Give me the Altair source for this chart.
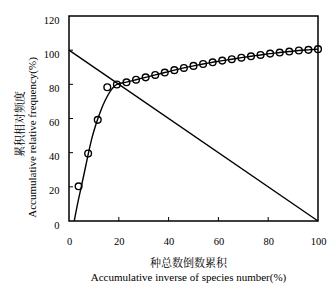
import altair as alt
import pandas as pd

# ---- data ----
pt_x = [3.85, 7.69, 11.54, 15.38, 19.23, 23.08, 26.92, 30.77, 34.62, 38.46, 42.31, 46.15, 50.0,
        53.85, 57.69, 61.54, 65.38, 69.23, 73.08, 76.92, 80.77, 84.62, 88.46, 92.31, 96.15, 100.0]
pt_y = [20.3, 39.5, 59.2, 78.3, 79.9, 81.2, 82.7, 84.1, 85.5, 86.9, 88.3, 89.6, 90.8,
        91.9, 92.9, 93.9, 94.7, 95.6, 96.4, 97.2, 98.0, 98.6, 99.2, 99.8, 100.2, 100.6]

curve_x = [2.1, 3.5, 5.0, 6.4, 7.7, 9.2, 10.8, 12.6, 14.5, 16.8, 19.23, 23.08, 26.92, 30.77, 34.62,
           38.46, 42.31, 46.15, 50.0, 53.85, 57.69, 61.54, 65.38, 69.23, 73.08, 76.92, 80.77,
           84.62, 88.46, 92.31, 96.15, 100.0]
curve_y = [0.0, 10.5, 20.5, 30.0, 39.0, 48.5, 56.5, 64.0, 70.5, 76.5, 80.0, 81.3, 82.7, 84.1, 85.5,
           86.9, 88.3, 89.6, 90.8, 91.9, 92.9, 93.9, 94.7, 95.6, 96.4, 97.2, 98.0,
           98.6, 99.2, 99.8, 100.2, 100.6]

diag_x = [0, 100]
diag_y = [100, 0]

x_ticks = [0, 20, 40, 60, 80, 100]
y_ticks = [0, 20, 40, 60, 80, 100, 120]
x_inner_ticks = [20, 40, 60, 80]
y_inner_ticks = [20, 40, 60, 80, 100]

x_title = ["种总数倒数累积", "Accumulative inverse of species number(%)"]
y_title_en = "Accumulative relative frequency(%)"
y_title_cn = "累积相对频度"

FONT = "Times New Roman, Liberation Serif, Noto Serif CJK SC, Noto Sans CJK SC"

W, H = 249, 205
xs = alt.Scale(domain=[0, 100], nice=False)
ys = alt.Scale(domain=[0, 120], nice=False)

x_axis = alt.Axis(
    values=x_ticks, title=x_title, grid=False, domain=False, ticks=False, labelFlush=False,
    labelFont=FONT, labelFontSize=10.5, labelColor="black", labelPadding=15,
    titleFont=FONT, titleFontSize=11, titleFontWeight="normal", titleColor="black",
    titleBaseline="top", titleY=36, titleX=119, titleAnchor="middle", titleLineHeight=14)
y_axis = alt.Axis(
    values=y_ticks, title=y_title_en, grid=False, domain=False, ticks=False, labelFlush=False,
    labelFont=FONT, labelFontSize=10.5, labelColor="black", labelPadding=10, labelOffset=4,
    titleFont=FONT, titleFontSize=11, titleFontWeight="normal", titleColor="black",
    titleAngle=270, titleBaseline="middle", titleAlign="center",
    titleX=-37, titleY=121)


def X(f):
    return alt.X(f, scale=xs, axis=x_axis)


def Y(f):
    return alt.Y(f, scale=ys, axis=y_axis)


pts = pd.DataFrame({"x": pt_x, "y": pt_y})
crv = pd.DataFrame({"x": curve_x, "y": curve_y})
dia = pd.DataFrame({"x": diag_x, "y": diag_y})

points = alt.Chart(pts).mark_point(
    shape="circle", filled=False, size=45, strokeWidth=1.4, color="black", opacity=1
).encode(x=X("x:Q"), y=Y("y:Q"))

curve = alt.Chart(crv).mark_line(interpolate="monotone", color="black", strokeWidth=1.4).encode(
    x=X("x:Q"), y=Y("y:Q"))

diag = alt.Chart(dia).mark_line(color="black", strokeWidth=1.4).encode(
    x=X("x:Q"), y=Y("y:Q"))

xt = alt.Chart(pd.DataFrame({"x": x_inner_ticks})).mark_rule(color="black", strokeWidth=1).encode(
    x=X("x:Q"), y=alt.value(H), y2=alt.value(H - 4))
yt = alt.Chart(pd.DataFrame({"y": y_inner_ticks})).mark_rule(color="black", strokeWidth=1).encode(
    y=Y("y:Q"), x=alt.value(0), x2=alt.value(4))

cn = alt.Chart(pd.DataFrame({"t": [y_title_cn]})).mark_text(
    angle=270, font=FONT, fontSize=11, color="black", align="center", baseline="middle"
).encode(x=alt.value(-48), y=alt.value(108), text="t:N")

chart = alt.layer(diag, curve, points, xt, yt, cn).properties(
    width=W, height=H,
    background="white",
    autosize=alt.AutoSizeParams(type="none"),
    padding={"left": 61, "top": 8, "right": 10, "bottom": 63},
).configure_view(stroke="black", strokeWidth=1.5)

chart.save("out.html", embed_options={"renderer": "svg", "actions": False})
